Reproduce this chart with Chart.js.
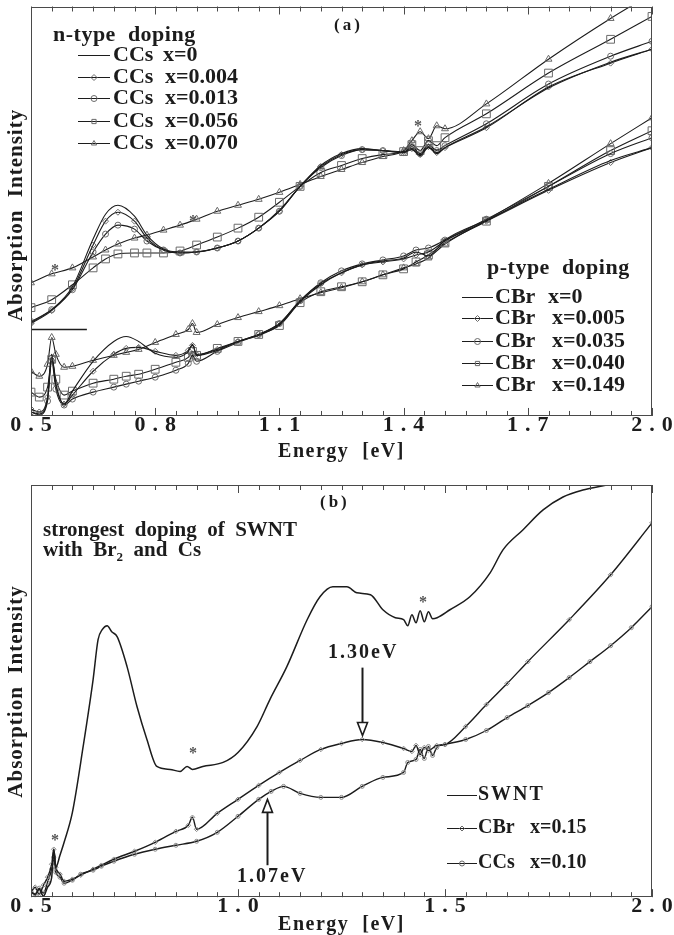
<!DOCTYPE html>
<html>
<head>
<meta charset="utf-8">
<script src="https://cdn.jsdelivr.net/npm/chart.js@4.4.1/dist/chart.umd.min.js"></script>
<style>
  body { margin: 0; background: #fff; }
  #page { position: relative; width: 674px; height: 935px; }
  canvas { position: absolute; left: 0; }
</style>
</head>
<body>
<div id="page">
  <canvas id="panelA" width="674" height="470" style="top:0"></canvas>
  <canvas id="panelB" width="674" height="465" style="top:470px"></canvas>
</div>
<script>
const SERIF = '"Liberation Serif", "Times New Roman", serif';
const INK = '#1c1c1c';
const MARK = '#6a6a6a';

// ---- panel (a): n-type, Cs doped (upper curves)
const energyN = [0.5, 0.55, 0.6, 0.65, 0.68, 0.71, 0.75, 0.78, 0.82, 0.86, 0.9, 0.95, 1.0, 1.05, 1.1, 1.15, 1.2, 1.25, 1.3, 1.35, 1.4, 1.42, 1.44, 1.46, 1.48, 1.5, 1.6, 1.75, 1.9, 2.0];
const ccs0    = [94, 107, 130, 178, 203, 212, 201, 182, 168, 165, 165, 169, 176, 189, 207, 231, 252, 264, 269, 267, 265, 268, 262, 270, 264, 270, 291, 330, 356, 369];
const ccs004  = [93, 106, 128, 172, 196, 205, 196, 179, 167, 164, 165, 169, 176, 189, 206, 231, 251, 263, 268, 267, 266, 269, 263, 271, 265, 270, 290, 331, 355, 369];
const ccs013  = [95, 107, 127, 165, 183, 192, 188, 176, 167, 164, 165, 169, 176, 189, 206, 231, 250, 262, 268, 267, 265, 271, 264, 273, 267, 272, 294, 334, 362, 377];
const ccs056  = [109, 117, 132, 149, 158, 163, 164, 164, 164, 166, 172, 180, 189, 200, 215, 231, 245, 252, 259, 263, 266, 273, 267, 277, 272, 280, 304, 345, 379, 402];
const ccs070  = [134, 143, 149, 160, 167, 173, 179, 182, 187, 192, 198, 206, 212, 218, 225, 233, 241, 248, 255, 261, 267, 277, 286, 279, 292, 289, 314, 359, 400, 425];

// ---- panel (a): p-type, Br doped (lower curves)
const energyP = [0.5, 0.52, 0.54, 0.55, 0.56, 0.58, 0.6, 0.65, 0.7, 0.73, 0.76, 0.8, 0.85, 0.88, 0.89, 0.9, 0.95, 1.0, 1.05, 1.1, 1.15, 1.2, 1.25, 1.3, 1.35, 1.4, 1.43, 1.46, 1.5, 1.6, 1.75, 1.9, 2.0];
const cbr0    = [4, 2, 17, 62, 32, 12, 25, 55, 75, 80, 75, 63, 59, 65, 72, 61, 66, 75, 81, 92, 115, 132, 144, 152, 156, 159, 165, 161, 177, 197, 228, 257, 270];
const cbr005  = [7, 4, 19, 59, 32, 12, 21, 45, 62, 68, 69, 65, 61, 66, 71, 62, 67, 75, 82, 93, 116, 133, 144, 152, 155, 158, 162, 165, 176, 196, 227, 255, 270];
const cbr035  = [4, 1, 15, 55, 27, 11, 17, 24, 29, 32, 35, 39, 46, 53, 61, 55, 65, 74, 82, 93, 116, 134, 146, 153, 157, 161, 167, 169, 177, 198, 231, 264, 280];
const cbr040  = [24, 19, 29, 57, 37, 21, 25, 33, 37, 40, 42, 47, 54, 59, 65, 61, 68, 75, 82, 91, 114, 125, 130, 135, 142, 148, 155, 162, 174, 196, 231, 267, 287];
const cbr149  = [45, 40, 52, 79, 62, 49, 50, 56, 61, 64, 67, 74, 82, 87, 93, 84, 92, 99, 105, 111, 118, 124, 129, 135, 142, 149, 153, 159, 173, 197, 234, 274, 300];
const offsetE = [0.5, 0.635];
const offsetV = [87, 87];

// ---- panel (b)
const energySWNT = [0.5, 0.51, 0.52, 0.53, 0.54, 0.55, 0.555, 0.56, 0.57, 0.58, 0.6, 0.626, 0.65, 0.662, 0.672, 0.684, 0.695, 0.708, 0.732, 0.756, 0.78, 0.804, 0.836, 0.86, 0.877, 0.89, 0.915, 0.964, 1.0, 1.046, 1.077, 1.118, 1.167, 1.198, 1.229, 1.263, 1.287, 1.32, 1.35, 1.38, 1.4, 1.41, 1.42, 1.43, 1.44, 1.45, 1.46, 1.47, 1.481, 1.512, 1.56, 1.609, 1.64, 1.688, 1.737, 1.785, 1.833, 1.879, 1.95, 2.0];
const valuesSWNT = [5, 3, 8, 1, 10, 20, 48, 30, 42, 55, 85, 151, 218, 258, 268, 272, 266, 261, 231, 191, 158, 131, 128, 126, 131, 128, 131, 135, 145, 171, 198, 231, 278, 301, 311, 311, 305, 303, 288, 280, 278, 272, 283, 275, 287, 276, 286, 279, 280, 288, 301, 325, 348, 368, 388, 401, 408, 412, 418, 422];
const energyCBr = [0.5, 0.51, 0.52, 0.53, 0.54, 0.55, 0.555, 0.56, 0.57, 0.58, 0.6, 0.62, 0.65, 0.67, 0.7, 0.75, 0.8, 0.85, 0.88, 0.89, 0.9, 0.95, 1.0, 1.05, 1.1, 1.15, 1.2, 1.25, 1.3, 1.35, 1.4, 1.42, 1.43, 1.44, 1.45, 1.46, 1.48, 1.5, 1.55, 1.6, 1.65, 1.7, 1.8, 1.9, 2.0];
const valuesCBr = [5, 10, 3, 12, 20, 33, 48, 30, 23, 16, 18, 22, 28, 32, 38, 46, 55, 66, 72, 80, 68, 84, 98, 112, 125, 137, 148, 154, 158, 155, 149, 146, 152, 143, 150, 147, 152, 153, 171, 193, 214, 236, 278, 323, 375];
const energyCCs = [0.5, 0.51, 0.52, 0.53, 0.54, 0.55, 0.555, 0.56, 0.57, 0.58, 0.6, 0.62, 0.65, 0.67, 0.7, 0.75, 0.8, 0.85, 0.9, 0.95, 1.0, 1.05, 1.08, 1.11, 1.15, 1.2, 1.25, 1.3, 1.35, 1.4, 1.41, 1.43, 1.44, 1.45, 1.46, 1.47, 1.48, 1.5, 1.55, 1.6, 1.65, 1.7, 1.75, 1.8, 1.85, 1.9, 1.95, 2.0];
const valuesCCs = [6, 2, 9, 4, 15, 28, 40, 25, 20, 14, 17, 23, 27, 31, 36, 43, 48, 52, 56, 65, 81, 98, 106, 111, 104, 100, 100, 111, 120, 125, 135, 138, 148, 139, 151, 142, 150, 153, 158, 167, 180, 192, 205, 220, 236, 252, 270, 291];

const tickLabelsA = ['0.5', '0.8', '1.1', '1.4', '1.7', '2.0'];
const tickLabelsB = ['0.5', '1.0', '1.5', '2.0'];

const pts = (xs, ys) => xs.map((x, i) => ({x, y: ys[i]}));

const line = (label, xs, ys, style, radius, extra) => Object.assign({
    label,
    data: pts(xs, ys),
    borderColor: INK,
    borderWidth: 1.1,
    pointStyle: style || 'circle',
    pointRadius: style ? radius : 0,
    pointBorderColor: MARK,
    pointBackgroundColor: 'rgba(255,255,255,0)',
    pointBorderWidth: 1,
    cubicInterpolationMode: 'monotone',
    fill: false
}, extra || {});

const drawMarker = (ctx, style, x, y, r) => {
    ctx.save();
    ctx.strokeStyle = MARK;
    ctx.lineWidth = 1;
    ctx.beginPath();
    if (style === 'rect') {
        const s = r * Math.SQRT1_2;
        ctx.rect(x - s, y - s, 2 * s, 2 * s);
    } else if (style === 'rectRot') {
        ctx.moveTo(x, y - r); ctx.lineTo(x + r, y); ctx.lineTo(x, y + r); ctx.lineTo(x - r, y); ctx.closePath();
    } else if (style === 'triangle') {
        ctx.moveTo(x, y - r); ctx.lineTo(x + 0.866 * r, y + 0.5 * r); ctx.lineTo(x - 0.866 * r, y + 0.5 * r); ctx.closePath();
    } else {
        ctx.arc(x, y, r, 0, Math.PI * 2);
    }
    ctx.stroke();
    ctx.restore();
};

const putText = (ctx, item) => {
    ctx.save();
    const font = (s) => `bold ${s}px ${SERIF}`;
    ctx.font = font(item.size);
    ctx.fillStyle = item.color || INK;
    ctx.textBaseline = 'middle';
    ctx.textAlign = item.align || 'left';
    ctx.letterSpacing = (item.ls || 0) + 'px';
    let x = item.x;
    (item.parts || [[item.text]]).forEach(([txt, kind]) => {
        if (kind === 'sub') {
            ctx.font = font(Math.round(item.size * 0.62));
            ctx.fillText(txt, x, item.y + item.size * 0.3);
            x += ctx.measureText(txt).width;
            ctx.font = font(item.size);
        } else {
            ctx.fillText(txt, x, item.y);
            x += ctx.measureText(txt).width;
        }
    });
    ctx.restore();
};

// frame, inward ticks, y title, legends and notes
const decor = {
    id: 'decor',
    beforeDraw(chart) { chart.ctx.letterSpacing = '1.5px'; },
    beforeDatasetsDraw(chart) { chart.ctx.letterSpacing = '0px'; },
    afterDatasetsDraw(chart) { chart.ctx.letterSpacing = '7px'; },
    afterDraw(chart, args, opts) {
        const ctx = chart.ctx;
        ctx.letterSpacing = '0px';
        const a = chart.chartArea;
        const xs = chart.scales.x;
        const ys = chart.scales.y;

        ctx.save();
        ctx.strokeStyle = '#4a4a4a';
        ctx.lineWidth = 1;
        ctx.strokeRect(Math.round(a.left) + 0.5, Math.round(a.top) + 0.5, Math.round(a.right - a.left) - 1, Math.round(a.bottom - a.top) - 1);
        ctx.beginPath();
        xs.ticks.forEach(t => {
            const px = Math.round(xs.getPixelForValue(t.value)) + 0.5;
            const len = t.label ? 8 : 5;
            ctx.moveTo(px, a.bottom); ctx.lineTo(px, a.bottom - len);
            ctx.moveTo(px, a.top); ctx.lineTo(px, a.top + len);
        });
        ctx.stroke();
        ctx.restore();

        ctx.save();
        ctx.translate(17, opts.yTitleY);
        ctx.rotate(-Math.PI / 2);
        ctx.font = `bold 21px ${SERIF}`;
        ctx.letterSpacing = '1px';
        ctx.textAlign = 'center';
        ctx.textBaseline = 'middle';
        ctx.fillStyle = INK;
        ctx.fillText('Absorption  Intensity', 0, 0);
        ctx.restore();

        (opts.texts || []).forEach(t => putText(ctx, t));

        (opts.legends || []).forEach(lg => {
            if (lg.title) putText(ctx, {text: lg.title, x: lg.titleX, y: lg.titleY, size: lg.size, ls: 0.5});
            lg.rows.forEach(r => {
                const ds = chart.data.datasets[r.ds];
                ctx.save();
                ctx.strokeStyle = INK;
                ctx.lineWidth = 1;
                ctx.beginPath();
                ctx.moveTo(lg.x1, r.y + 0.5); ctx.lineTo(lg.x2, r.y + 0.5);
                ctx.stroke();
                ctx.restore();
                if (ds.pointRadius > 0) drawMarker(ctx, ds.pointStyle, (lg.x1 + lg.x2) / 2, r.y + 0.5, lg.markR);
                putText(ctx, {text: r.name, x: lg.nameX, y: r.y, size: lg.size, ls: r.ls || 0});
                if (r.val) putText(ctx, {text: r.val, x: r.valX, y: r.y, size: lg.size});
            });
        });

        (opts.arrows || []).forEach(ar => {
            const px = Math.round(xs.getPixelForValue(ar.e)) + 0.5;
            const y1 = ys.getPixelForValue(ar.from);
            const y2 = ys.getPixelForValue(ar.to);
            const dir = Math.sign(y2 - y1);
            const base = y2 - dir * 13;
            ctx.save();
            ctx.strokeStyle = INK;
            ctx.lineWidth = 2;
            ctx.beginPath();
            ctx.moveTo(px, y1); ctx.lineTo(px, base);
            ctx.stroke();
            ctx.lineWidth = 1.6;
            ctx.fillStyle = '#fff';
            ctx.beginPath();
            ctx.moveTo(px, y2); ctx.lineTo(px - 5, base); ctx.lineTo(px + 5, base); ctx.closePath();
            ctx.fill(); ctx.stroke();
            ctx.restore();
        });
    }
};

const xAxis = (labels, padTop, padBottom) => ({
    type: 'linear',
    min: 0.5,
    max: 2.0,
    grid: {display: false, drawTicks: false},
    border: {display: false},
    ticks: {
        stepSize: 0.05,
        autoSkip: false,
        maxRotation: 0,
        padding: 1,
        z: 1,
        labelOffset: 3.5,
        color: INK,
        font: {family: SERIF, size: 22, weight: 'bold', lineHeight: 0.72},
        callback: (v) => {
            const s = Number(v).toFixed(2);
            const t = s.slice(0, -1);
            return s.endsWith('0') && labels.includes(t) ? t : '';
        }
    },
    title: {
        display: true,
        text: 'Energy  [eV]',
        color: INK,
        font: {family: SERIF, size: 20, weight: 'bold', lineHeight: 1},
        padding: {top: padTop, bottom: padBottom}
    }
});

const baseOptions = (labels, yMax, padTop, tTop, tBottom, decorOpts) => ({
    responsive: false,
    animation: false,
    events: [],
    layout: {padding: {left: 31, right: 22, top: padTop, bottom: 0}},
    scales: {
        x: xAxis(labels, tTop, tBottom),
        y: {type: 'linear', display: false, min: 0, max: yMax}
    },
    plugins: {legend: {display: false}, tooltip: {enabled: false}, decor: decorOpts}
});

const star = (x, y) => ({text: '*', x, y: y + 4, size: 16, align: 'center', color: '#555'});

new Chart(document.getElementById('panelA'), {
    type: 'line',
    data: {
        datasets: [
            line('CCs x=0', energyN, ccs0),
            line('CCs x=0.004', energyN, ccs004, 'rectRot', 3),
            line('CCs x=0.013', energyN, ccs013, 'circle', 3),
            line('CCs x=0.056', energyN, ccs056, 'rect', 5.5),
            line('CCs x=0.070', energyN, ccs070, 'triangle', 4),
            line('CBr x=0', energyP, cbr0),
            line('CBr x=0.005', energyP, cbr005, 'rectRot', 3),
            line('CBr x=0.035', energyP, cbr035, 'circle', 3),
            line('CBr x=0.040', energyP, cbr040, 'rect', 5.5),
            line('CBr x=0.149', energyP, cbr149, 'triangle', 4),
            line('offset', offsetE, offsetV, null, 0, {cubicInterpolationMode: 'default', borderWidth: 1.3})
        ]
    },
    options: baseOptions(tickLabelsA, 412, 5, 8.2, 8, {
        yTitleY: 215,
        texts: [
            {text: '(a)', x: 334, y: 26, size: 17, ls: 3},
            star(55, 267), star(193, 218), star(418, 123)
        ],
        legends: [
            {title: 'n-type  doping', titleX: 53, titleY: 35, size: 22, x1: 78, x2: 110, nameX: 113, markR: 3,
             rows: [
                {ds: 0, name: 'CCs', val: 'x=0', valX: 163, y: 55},
                {ds: 1, name: 'CCs', val: 'x=0.004', valX: 165, y: 77},
                {ds: 2, name: 'CCs', val: 'x=0.013', valX: 165, y: 98},
                {ds: 3, name: 'CCs', val: 'x=0.056', valX: 165, y: 121},
                {ds: 4, name: 'CCs', val: 'x=0.070', valX: 165, y: 143}
             ]},
            {title: 'p-type  doping', titleX: 487, titleY: 268, size: 22, x1: 462, x2: 493, nameX: 495, markR: 3,
             rows: [
                {ds: 5, name: 'CBr', val: 'x=0', valX: 548, y: 297},
                {ds: 6, name: 'CBr', val: 'x=0.005', valX: 552, y: 318},
                {ds: 7, name: 'CBr', val: 'x=0.035', valX: 552, y: 341},
                {ds: 8, name: 'CBr', val: 'x=0.040', valX: 552, y: 363},
                {ds: 9, name: 'CBr', val: 'x=0.149', valX: 552, y: 385}
             ]}
        ]
    })
    ,
    plugins: [decor]
});

const smallMark = {pointBorderColor: '#8a8a8a', borderWidth: 1.4};

new Chart(document.getElementById('panelB'), {
    type: 'line',
    data: {
        datasets: [
            line('SWNT', energySWNT, valuesSWNT, null, 0, {borderWidth: 1.5}),
            line('CBr x=0.15', energyCBr, valuesCBr, 'rectRot', 2.3, smallMark),
            line('CCs x=0.10', energyCCs, valuesCCs, 'circle', 2, smallMark)
        ]
    },
    options: baseOptions(tickLabelsB, 413, 15, 0, 0, {
        yTitleY: 221.5,
        texts: [
            {text: '(b)', x: 320, y: 33, size: 17, ls: 3},
            {text: 'strongest  doping  of  SWNT', x: 43, y: 61, size: 21},
            {parts: [['with  Br'], ['2', 'sub'], ['  and  Cs']], x: 43, y: 81, size: 21},
            {text: '1.30eV', x: 328, y: 183, size: 20, ls: 2},
            {text: '1.07eV', x: 237, y: 407, size: 20, ls: 2},
            star(55, 367), star(193, 280), star(423, 129)
        ],
        legends: [
            {size: 20, x1: 447, x2: 477, nameX: 478, markR: 2.5,
             rows: [
                {ds: 0, name: 'SWNT', ls: 2, y: 325},
                {ds: 1, name: 'CBr', val: 'x=0.15', valX: 530, y: 358},
                {ds: 2, name: 'CCs', val: 'x=0.10', valX: 530, y: 393}
             ]}
        ],
        arrows: [
            {e: 1.30, from: 230, to: 162},
            {e: 1.07, from: 32, to: 98}
        ]
    }),
    plugins: [decor]
});
</script>
</body>
</html>
